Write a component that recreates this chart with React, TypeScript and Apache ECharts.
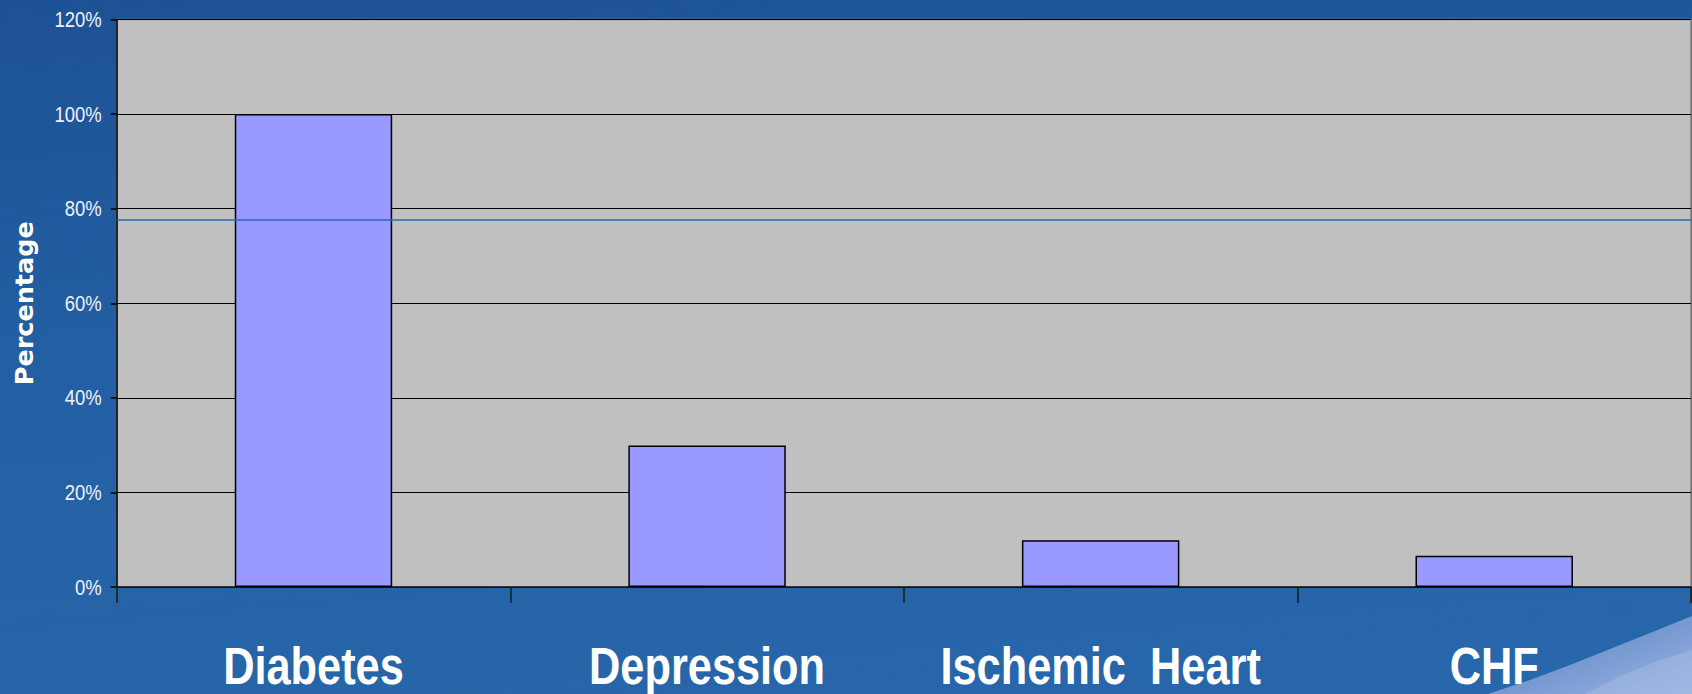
import React, { useEffect, useRef } from "react";
import * as echarts from "echarts";

const categories = ["Diabetes", "Depression", "Ischemic  Heart", "CHF"];
const percentages = [100, 29.9, 9.9, 6.6];
const yTicks = [0, 20, 40, 60, 80, 100, 120];
const guideLine = [77.7];

const SANS = "'Liberation Sans', Arial, sans-serif";

export default function App() {
  const ref = useRef<HTMLDivElement>(null);
  useEffect(() => {
    if (!ref.current) return;
    const chart = echarts.init(ref.current, null, { renderer: "svg" });
    const swoosh = [
      {
        type: "polygon",
        silent: true,
        z: -10,
        shape: {
          points: [
            [1488, 694], [1530, 680], [1570, 665], [1610, 649], [1650, 633], [1692, 616], [1692, 694],
          ],
        },
        style: {
          fill: new echarts.graphic.LinearGradient(0, 0, 1, 1, [
            { offset: 0, color: "#4e7dc2" },
            { offset: 1, color: "#9bb3e0" },
          ]),
        },
      },
      {
        type: "polygon",
        silent: true,
        z: -9,
        shape: {
          points: [[1585, 694], [1620, 676], [1655, 662], [1692, 650], [1692, 694]],
        },
        style: { fill: "rgba(170,190,230,0.45)" },
      },
    ];
    chart.setOption({
      animation: false,
      backgroundColor: "transparent",
      graphic: swoosh,
      grid: {
        left: 116.7,
        top: 19.5,
        right: 1,
        bottom: 107,
        show: true,
        backgroundColor: "#c0c0c0",
        borderColor: "#808080",
        borderWidth: 1.5,
      },
      xAxis: {
        type: "category",
        data: categories,
        boundaryGap: true,
        axisLine: { show: true, lineStyle: { color: "#1a1a1a", width: 1.5 } },
        axisTick: { show: true, length: 16, interval: 0, lineStyle: { color: "#1a1a1a", width: 1.5 } },
        axisLabel: { show: false },
        splitLine: { show: false },
      },
      yAxis: {
        type: "value",
        min: yTicks[0],
        max: yTicks[yTicks.length - 1],
        interval: 20,
        name: "Percentage",
        nameLocation: "middle",
        nameGap: 80,
        nameTextStyle: {
          color: "#ffffff",
          fontFamily: "'DejaVu Sans', sans-serif",
          fontWeight: "bold",
          fontSize: 25.5,
        },
        axisLine: { show: true, lineStyle: { color: "#000000", width: 1.5 } },
        axisTick: { show: true, length: 6, lineStyle: { color: "#000000", width: 1.5 } },
        axisLabel: { show: false },
        splitLine: { show: true, lineStyle: { color: "#000000", width: 1 } },
      },
      series: [
        {
          type: "line",
          data: [],
          z: 1,
          silent: true,
          markLine: {
            silent: true,
            symbol: "none",
            label: { show: false },
            lineStyle: { color: "#2a6ab8", width: 1.5, type: "solid" },
            data: guideLine.map((v) => ({ yAxis: v })),
          },
        },
        {
          type: "bar",
          data: percentages,
          z: 3,
          barWidth: "40%",
          itemStyle: { color: "#9999ff", borderColor: "#000000", borderWidth: 1.5 },
        },
      ],
    });

    // Condensed labels placed through the chart's own axes
    const axisY = chart.convertToPixel({ yAxisIndex: 0 }, 0) as number;
    const catLabels = categories.map((c, i) => ({
      type: "text",
      silent: true,
      x: chart.convertToPixel({ xAxisIndex: 0 }, i) as number,
      y: axisY + 54,
      scaleX: 0.85,
      style: {
        text: c,
        x: 0,
        y: 0,
        align: "center",
        verticalAlign: "top",
        fill: "#ffffff",
        fontFamily: SANS,
        fontWeight: "bold",
        fontSize: 51,
      },
    }));
    const gridLeft = 116.7;
    const tickLabels = yTicks.map((v) => ({
      type: "text",
      silent: true,
      x: gridLeft - 15,
      y: chart.convertToPixel({ yAxisIndex: 0 }, v) as number,
      scaleX: 0.84,
      style: {
        text: v + "%",
        x: 0,
        y: 0,
        align: "right",
        verticalAlign: "middle",
        fill: "#eef2f8",
        fontFamily: SANS,
        fontSize: 22,
      },
    }));
    chart.setOption({ graphic: [...swoosh, ...catLabels, ...tickLabels] });
    return () => chart.dispose();
  }, []);
  return (
    <div
      ref={ref}
      style={{
        position: "absolute",
        left: 0,
        top: 0,
        width: 1692,
        height: 694,
        background: "linear-gradient(175deg, #1d5195 0%, #2360a3 45%, #2867ab 100%)",
      }}
    />
  );
}
